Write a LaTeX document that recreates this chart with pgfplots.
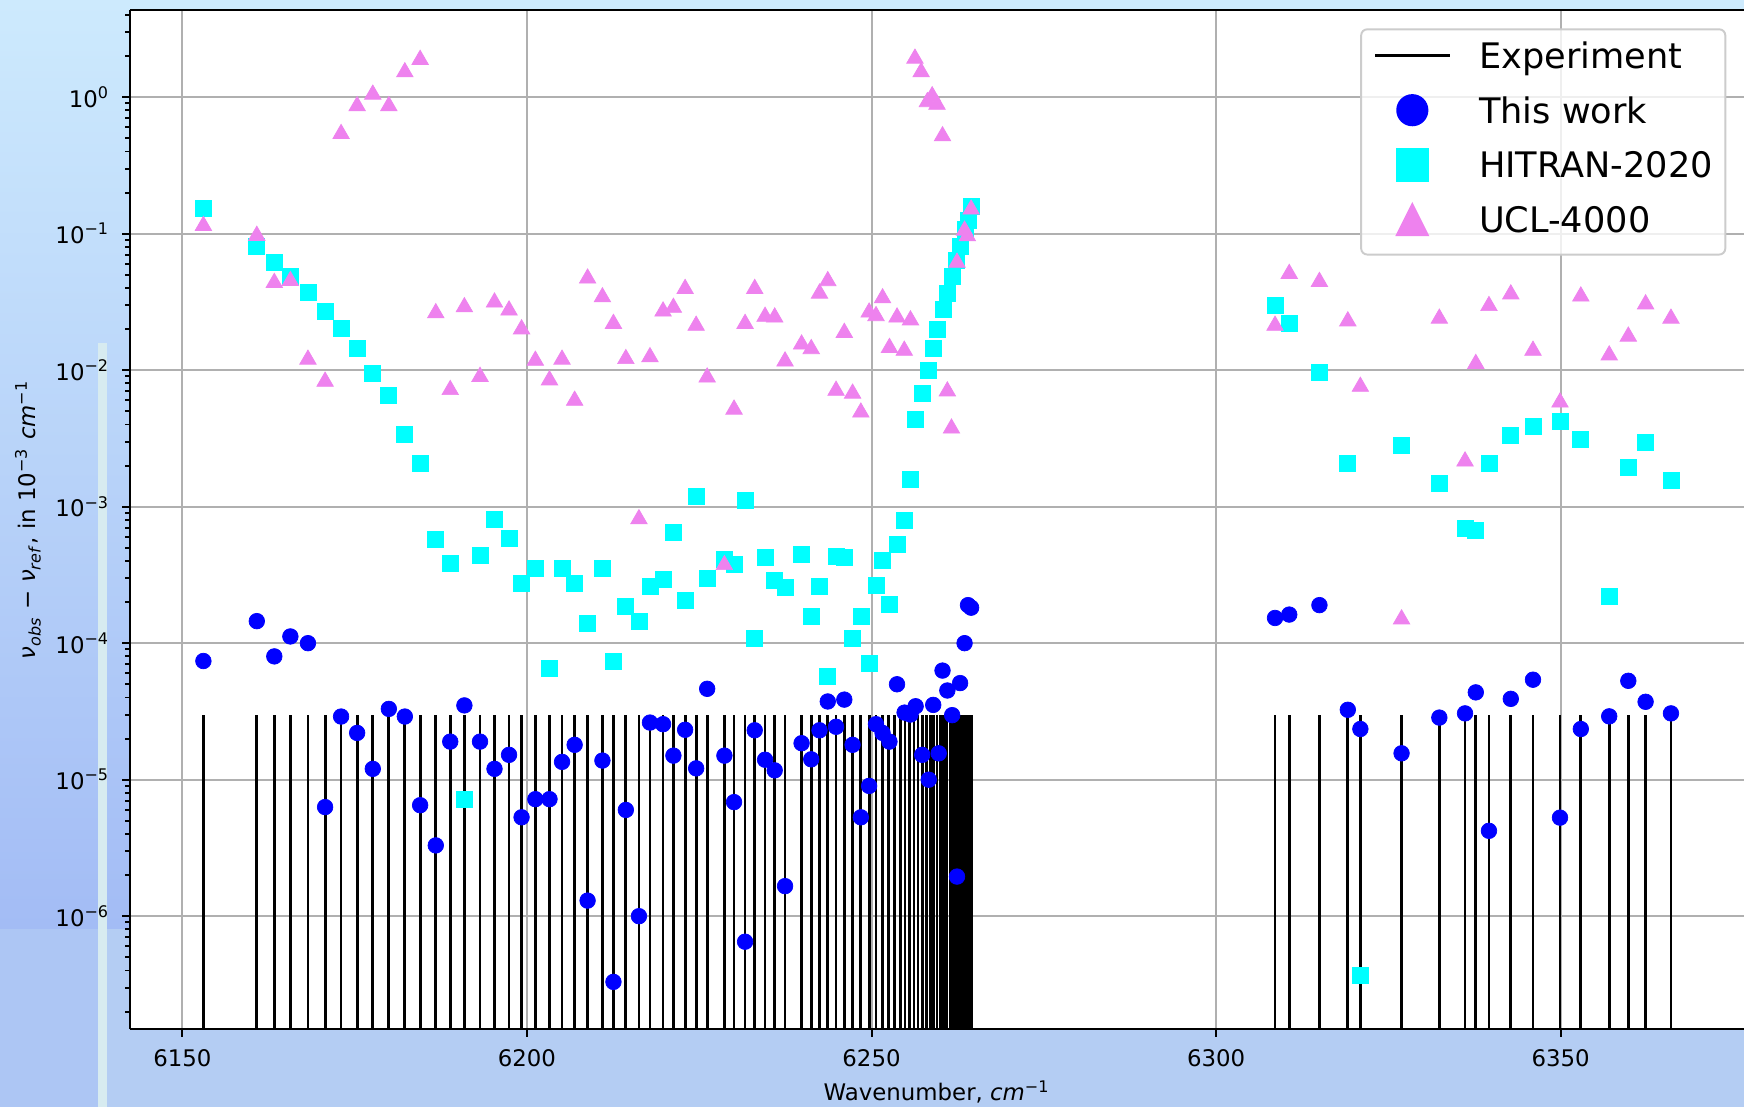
\documentclass[border=0pt]{standalone}
\usepackage{pgfplots}
\pgfplotsset{compat=1.18}
\usepackage{fontspec}
\setmainfont{DejaVu Sans}
\definecolor{bgtop}{HTML}{CDEAFD}
\definecolor{bgmid}{HTML}{B9D6F9}
\definecolor{bgbot}{HTML}{A3BCF5}
\definecolor{bglow}{HTML}{B4CDF3}
\definecolor{bglowleft}{HTML}{ADC6F4}
\definecolor{bgstrip}{HTML}{D7EBF0}
\definecolor{mviolet}{HTML}{EE82EE}
\definecolor{mcyan}{HTML}{00FFFF}
\definecolor{mblue}{HTML}{0000FF}
\definecolor{gridgray}{HTML}{B0B0B0}
\begin{document}
\begin{tikzpicture}
\path[use as bounding box] (-13mm,-7.8mm) rectangle (161.4mm,102.9mm);
\shade[top color=bgtop, middle color=bgmid, bottom color=bgbot] (-13mm,10mm) rectangle (161.4mm,102.9mm);
\fill[bglowleft] (-13mm,-7.8mm) rectangle (-3.2mm,10mm);
\fill[bglow] (-3.2mm,-7.8mm) rectangle (161.4mm,10mm);
\fill[bgstrip] (-3.2mm,-7.8mm) rectangle (-2.3mm,68.6mm);
\begin{axis}[
  at={(0,0)}, anchor=south west,
  scale only axis, width=161.4mm, height=101.9mm,
  xmin=6142.4, xmax=6376.6,
  ymode=log, ymin=1.49e-7, ymax=4.35,
  axis x line*=bottom, axis y line*=left,
  axis line style={-, black, line width=0.65pt},
  axis background/.style={fill=white},
  xtick={6150,6200,6250,6300,6350},
  xticklabels={6150,6200,6250,6300,6350},
  ytick={1e-6,1e-5,1e-4,1e-3,1e-2,1e-1,1},
  yticklabels={10\textsuperscript{−6},10\textsuperscript{−5},10\textsuperscript{−4},10\textsuperscript{−3},10\textsuperscript{−2},10\textsuperscript{−1},10\textsuperscript{0}},
  minor ytick={2e-7,3e-7,4e-7,5e-7,6e-7,7e-7,8e-7,9e-7,
    2e-6,3e-6,4e-6,5e-6,6e-6,7e-6,8e-6,9e-6,
    2e-5,3e-5,4e-5,5e-5,6e-5,7e-5,8e-5,9e-5,
    2e-4,3e-4,4e-4,5e-4,6e-4,7e-4,8e-4,9e-4,
    2e-3,3e-3,4e-3,5e-3,6e-3,7e-3,8e-3,9e-3,
    2e-2,3e-2,4e-2,5e-2,6e-2,7e-2,8e-2,9e-2,
    0.2,0.3,0.4,0.5,0.6,0.7,0.8,0.9,2,3,4},
  tick align=outside,
  major tick length=0.77mm,
  minor tick length=0.45mm,
  every tick/.style={black, line width=0.55pt},
  grid=major,
  major grid style={gridgray, line width=0.55pt},
  tick label style={font=\fontsize{6.5}{7.8}\selectfont},
  label style={font=\fontsize{6.5}{7.8}\selectfont},
  xlabel={Wavenumber, \textit{cm}\textsuperscript{−1}},
  ylabel={\textit{ν}\textsubscript{\textit{obs}} − \textit{ν}\textsubscript{\textit{ref}}, in 10\textsuperscript{−3} \textit{cm}\textsuperscript{−1}},
  xlabel style={at={(axis description cs:0.5,-0.0618)}, anchor=center},
  ylabel style={at={(axis description cs:-0.0632,0.5)}, anchor=center},
  legend style={
    at={(axis description cs:0.989,0.982)}, anchor=north east,
    draw=black!20, line width=0.55pt, rounded corners=0.6mm,
    fill=white, fill opacity=0.8, text opacity=1,
    font=\fontsize{10}{12}\selectfont,
    inner xsep=1.25mm, inner ysep=1.35mm,
    row sep=1.68mm, column sep=2.8mm,
    cells={anchor=base west},
    nodes={inner sep=0pt, text height=2.6mm, text depth=0.85mm},
  },
]
% Experiment sticks
\addplot[black, line width=0.8pt, mark=none, unbounded coords=jump,
  legend image code/.code={\draw[black, line width=0.82pt, sharp corners, draw opacity=1] (0mm,1.29mm) -- (7.45mm,1.29mm);}]
coordinates {
(6153.05,1e-9)(6153.05,3e-5)(6153.05,nan)
(6160.80,1e-9)(6160.80,3e-5)(6160.80,nan)
(6163.34,1e-9)(6163.34,3e-5)(6163.34,nan)
(6165.67,1e-9)(6165.67,3e-5)(6165.67,nan)
(6168.22,1e-9)(6168.22,3e-5)(6168.22,nan)
(6170.71,1e-9)(6170.71,3e-5)(6170.71,nan)
(6173.03,1e-9)(6173.03,3e-5)(6173.03,nan)
(6175.36,1e-9)(6175.36,3e-5)(6175.36,nan)
(6177.63,1e-9)(6177.63,3e-5)(6177.63,nan)
(6179.96,1e-9)(6179.96,3e-5)(6179.96,nan)
(6182.28,1e-9)(6182.28,3e-5)(6182.28,nan)
(6184.50,1e-9)(6184.50,3e-5)(6184.50,nan)
(6186.77,1e-9)(6186.77,3e-5)(6186.77,nan)
(6188.87,1e-9)(6188.87,3e-5)(6188.87,nan)
(6190.92,1e-9)(6190.92,3e-5)(6190.92,nan)
(6193.19,1e-9)(6193.19,3e-5)(6193.19,nan)
(6195.29,1e-9)(6195.29,3e-5)(6195.29,nan)
(6197.40,1e-9)(6197.40,3e-5)(6197.40,nan)
(6199.22,1e-9)(6199.22,3e-5)(6199.22,nan)
(6201.22,1e-9)(6201.22,3e-5)(6201.22,nan)
(6203.27,1e-9)(6203.27,3e-5)(6203.27,nan)
(6205.09,1e-9)(6205.09,3e-5)(6205.09,nan)
(6206.92,1e-9)(6206.92,3e-5)(6206.92,nan)
(6208.80,1e-9)(6208.80,3e-5)(6208.80,nan)
(6210.95,1e-9)(6210.95,3e-5)(6210.95,nan)
(6212.55,1e-9)(6212.55,3e-5)(6212.55,nan)
(6214.35,1e-9)(6214.35,3e-5)(6214.35,nan)
(6216.25,1e-9)(6216.25,3e-5)(6216.25,nan)
(6217.85,1e-9)(6217.85,3e-5)(6217.85,nan)
(6219.75,1e-9)(6219.75,3e-5)(6219.75,nan)
(6221.25,1e-9)(6221.25,3e-5)(6221.25,nan)
(6222.95,1e-9)(6222.95,3e-5)(6222.95,nan)
(6224.55,1e-9)(6224.55,3e-5)(6224.55,nan)
(6226.15,1e-9)(6226.15,3e-5)(6226.15,nan)
(6228.65,1e-9)(6228.65,3e-5)(6228.65,nan)
(6230.05,1e-9)(6230.05,3e-5)(6230.05,nan)
(6231.65,1e-9)(6231.65,3e-5)(6231.65,nan)
(6233.05,1e-9)(6233.05,3e-5)(6233.05,nan)
(6234.55,1e-9)(6234.55,3e-5)(6234.55,nan)
(6235.95,1e-9)(6235.95,3e-5)(6235.95,nan)
(6237.45,1e-9)(6237.45,3e-5)(6237.45,nan)
(6239.85,1e-9)(6239.85,3e-5)(6239.85,nan)
(6241.25,1e-9)(6241.25,3e-5)(6241.25,nan)
(6242.45,1e-9)(6242.45,3e-5)(6242.45,nan)
(6243.65,1e-9)(6243.65,3e-5)(6243.65,nan)
(6244.85,1e-9)(6244.85,3e-5)(6244.85,nan)
(6246.05,1e-9)(6246.05,3e-5)(6246.05,nan)
(6247.25,1e-9)(6247.25,3e-5)(6247.25,nan)
(6248.45,1e-9)(6248.45,3e-5)(6248.45,nan)
(6249.65,1e-9)(6249.65,3e-5)(6249.65,nan)
(6250.65,1e-9)(6250.65,3e-5)(6250.65,nan)
(6251.55,1e-9)(6251.55,3e-5)(6251.55,nan)
(6252.45,1e-9)(6252.45,3e-5)(6252.45,nan)
(6253.35,1e-9)(6253.35,3e-5)(6253.35,nan)
(6254.15,1e-9)(6254.15,3e-5)(6254.15,nan)
(6254.85,1e-9)(6254.85,3e-5)(6254.85,nan)
(6255.55,1e-9)(6255.55,3e-5)(6255.55,nan)
(6256.15,1e-9)(6256.15,3e-5)(6256.15,nan)
(6256.75,1e-9)(6256.75,3e-5)(6256.75,nan)
(6257.35,1e-9)(6257.35,3e-5)(6257.35,nan)
(6257.95,1e-9)(6257.95,3e-5)(6257.95,nan)
(6258.50,1e-9)(6258.50,3e-5)(6258.50,nan)
(6259.00,1e-9)(6259.00,3e-5)(6259.00,nan)
(6259.50,1e-9)(6259.50,3e-5)(6259.50,nan)
(6259.95,1e-9)(6259.95,3e-5)(6259.95,nan)
(6260.45,1e-9)(6260.45,3e-5)(6260.45,nan)
(6260.90,1e-9)(6260.90,3e-5)(6260.90,nan)
(6261.40,1e-9)(6261.40,3e-5)(6261.40,nan)
(6261.85,1e-9)(6261.85,3e-5)(6261.85,nan)
(6262.35,1e-9)(6262.35,3e-5)(6262.35,nan)
(6262.80,1e-9)(6262.80,3e-5)(6262.80,nan)
(6263.10,1e-9)(6263.10,3e-5)(6263.10,nan)
(6263.30,1e-9)(6263.30,3e-5)(6263.30,nan)
(6263.50,1e-9)(6263.50,3e-5)(6263.50,nan)
(6263.70,1e-9)(6263.70,3e-5)(6263.70,nan)
(6263.90,1e-9)(6263.90,3e-5)(6263.90,nan)
(6264.10,1e-9)(6264.10,3e-5)(6264.10,nan)
(6264.30,1e-9)(6264.30,3e-5)(6264.30,nan)
(6264.45,1e-9)(6264.45,3e-5)(6264.45,nan)
(6308.55,1e-9)(6308.55,3e-5)(6308.55,nan)
(6310.61,1e-9)(6310.61,3e-5)(6310.61,nan)
(6314.99,1e-9)(6314.99,3e-5)(6314.99,nan)
(6319.11,1e-9)(6319.11,3e-5)(6319.11,nan)
(6320.93,1e-9)(6320.93,3e-5)(6320.93,nan)
(6326.91,1e-9)(6326.91,3e-5)(6326.91,nan)
(6332.39,1e-9)(6332.39,3e-5)(6332.39,nan)
(6336.12,1e-9)(6336.12,3e-5)(6336.12,nan)
(6337.68,1e-9)(6337.68,3e-5)(6337.68,nan)
(6339.59,1e-9)(6339.59,3e-5)(6339.59,nan)
(6342.76,1e-9)(6342.76,3e-5)(6342.76,nan)
(6345.98,1e-9)(6345.98,3e-5)(6345.98,nan)
(6349.90,1e-9)(6349.90,3e-5)(6349.90,nan)
(6352.92,1e-9)(6352.92,3e-5)(6352.92,nan)
(6357.04,1e-9)(6357.04,3e-5)(6357.04,nan)
(6359.81,1e-9)(6359.81,3e-5)(6359.81,nan)
(6362.32,1e-9)(6362.32,3e-5)(6362.32,nan)
(6366.00,1e-9)(6366.00,3e-5)(6366.00,nan)
};
\addlegendentry{Experiment}
% This work
\addplot[color=mblue, only marks, mark=*, mark size=0.78mm, mark options={solid, draw=mblue, fill=mblue, line width=0.2pt},
  legend image code/.code={\fill[mblue, fill opacity=1] (3.72mm,1.29mm) circle (1.51mm);}]
coordinates {
(6153.05,7.4e-5)(6160.80,1.45e-4)(6163.34,8.0e-5)(6165.67,1.12e-4)(6168.22,1.0e-4)
(6170.71,6.3e-6)(6173.03,2.9e-5)(6175.36,2.2e-5)(6177.63,1.2e-5)(6179.96,3.3e-5)
(6182.28,2.9e-5)(6184.50,6.5e-6)(6186.77,3.3e-6)(6188.87,1.9e-5)(6190.92,3.5e-5)
(6193.19,1.9e-5)(6195.29,1.2e-5)(6197.40,1.52e-5)(6199.22,5.3e-6)(6201.22,7.2e-6)
(6203.27,7.2e-6)(6205.09,1.35e-5)(6206.92,1.8e-5)(6208.80,1.3e-6)(6210.95,1.38e-5)
(6212.55,3.3e-7)(6214.35,6.0e-6)(6216.25,1.0e-6)(6217.85,2.62e-5)(6219.75,2.55e-5)
(6221.25,1.5e-5)(6222.95,2.32e-5)(6224.55,1.21e-5)(6226.15,4.63e-5)(6228.65,1.5e-5)
(6230.05,6.85e-6)(6231.65,6.5e-7)(6233.05,2.3e-5)(6234.55,1.4e-5)(6235.95,1.17e-5)
(6237.45,1.66e-6)(6239.85,1.85e-5)(6241.25,1.41e-5)(6242.45,2.3e-5)(6243.65,3.74e-5)
(6244.85,2.44e-5)(6246.05,3.86e-5)(6247.25,1.8e-5)(6248.45,5.3e-6)(6249.65,9.0e-6)
(6250.65,2.55e-5)(6251.60,2.2e-5)(6252.60,1.9e-5)(6253.70,5.0e-5)(6254.80,3.1e-5)
(6255.65,3.0e-5)(6256.40,3.45e-5)(6257.35,1.52e-5)(6258.30,1.0e-5)(6258.95,3.53e-5)
(6259.75,1.56e-5)(6260.30,6.3e-5)(6261.00,4.5e-5)(6261.70,2.97e-5)(6262.40,1.95e-6)
(6262.85,5.1e-5)(6263.50,1.0e-4)(6264.00,1.9e-4)(6264.45,1.82e-4)
(6308.55,1.53e-4)(6310.61,1.62e-4)(6314.99,1.9e-4)(6319.11,3.25e-5)(6320.93,2.35e-5)
(6326.91,1.56e-5)(6332.39,2.85e-5)(6336.12,3.06e-5)(6337.68,4.36e-5)(6339.59,4.22e-6)
(6342.76,3.91e-5)(6345.98,5.4e-5)(6349.90,5.27e-6)(6352.92,2.35e-5)(6357.04,2.91e-5)
(6359.81,5.3e-5)(6362.32,3.72e-5)(6366.00,3.06e-5)
};
\addlegendentry{This work}
% HITRAN-2020
\addplot[color=mcyan, only marks, mark=square*, mark size=0.8mm, mark options={solid, draw=mcyan, fill=mcyan, line width=0.2pt},
  legend image code/.code={\fill[mcyan, fill opacity=1, sharp corners] (2.16mm,-0.27mm) rectangle (5.28mm,2.85mm);}]
coordinates {
(6153.05,0.153)(6160.80,0.081)(6163.34,0.0615)(6165.67,0.0483)(6168.22,0.0369)
(6170.71,0.0268)(6173.03,0.0202)(6175.36,0.0145)(6177.63,0.00945)(6179.96,0.00655)
(6182.28,0.00341)(6184.50,0.00206)(6186.77,5.78e-4)(6188.87,3.86e-4)(6190.92,7.2e-6)
(6193.19,4.4e-4)(6195.29,8.05e-4)(6197.40,5.85e-4)(6199.22,2.75e-4)(6201.22,3.56e-4)
(6203.27,6.56e-5)(6205.09,3.56e-4)(6206.92,2.75e-4)(6208.80,1.39e-4)(6210.95,3.56e-4)
(6212.55,7.4e-5)(6214.35,1.85e-4)(6216.25,1.45e-4)(6217.85,2.62e-4)(6219.75,2.93e-4)
(6221.25,6.5e-4)(6222.95,2.07e-4)(6224.55,1.2e-3)(6226.15,3.0e-4)(6228.65,4.1e-4)
(6230.05,3.79e-4)(6231.65,1.12e-3)(6233.05,1.09e-4)(6234.55,4.28e-4)(6235.95,2.9e-4)
(6237.45,2.56e-4)(6239.85,4.5e-4)(6241.25,1.58e-4)(6242.45,2.62e-4)(6243.65,5.7e-5)
(6244.85,4.35e-4)(6246.05,4.28e-4)(6247.25,1.09e-4)(6248.45,1.58e-4)(6249.65,7.06e-5)
(6250.65,2.67e-4)(6251.60,4.03e-4)(6252.60,1.93e-4)(6253.70,5.3e-4)(6254.75,8.0e-4)
(6255.70,1.58e-3)(6256.40,4.35e-3)(6257.35,6.8e-3)(6258.25,0.0100)(6258.90,0.0144)
(6259.60,0.0199)(6260.35,0.0280)(6261.00,0.0365)(6261.70,0.0484)(6262.35,0.0641)
(6262.90,0.0803)(6263.60,0.107)(6264.10,0.126)(6264.50,0.158)
(6308.55,0.0299)(6310.61,0.0221)(6314.99,0.00968)(6319.11,0.00208)(6320.93,3.7e-7)
(6326.91,0.00282)(6332.39,0.00147)(6336.12,6.92e-4)(6337.68,6.71e-4)(6339.59,0.00208)
(6342.76,0.00331)(6345.98,0.0039)(6349.90,0.00422)(6352.92,0.00312)(6357.04,2.22e-4)
(6359.81,0.00195)(6362.32,0.00297)(6366.00,0.00156)
};
\addlegendentry{HITRAN-2020}
% UCL-4000
\addplot[color=mviolet, only marks, mark=triangle*, mark size=0.95mm, mark options={solid, draw=mviolet, fill=mviolet, line width=0.2pt, yshift=-0.24mm},
  legend image code/.code={\fill[mviolet, fill opacity=1, sharp corners] (3.72mm,2.84mm) -- (2.17mm,-0.26mm) -- (5.27mm,-0.26mm) -- cycle;}]
coordinates {
(6153.05,0.119)(6160.80,0.1007)(6163.34,0.0455)(6165.67,0.047)(6168.22,0.01247)
(6170.71,0.0086)(6173.03,0.561)(6175.36,0.897)(6177.63,1.09)(6179.96,0.897)
(6182.28,1.59)(6184.50,1.96)(6186.77,0.0273)(6188.87,0.00747)(6190.92,0.0302)
(6193.19,0.00933)(6195.29,0.0327)(6197.40,0.0286)(6199.22,0.0208)(6201.22,0.01225)
(6203.27,0.0088)(6205.09,0.01247)(6206.92,0.00624)(6208.80,0.049)(6210.95,0.0357)
(6212.55,0.0228)(6214.35,0.0126)(6216.25,8.45e-4)(6217.85,0.013)(6219.75,0.0281)
(6221.25,0.0299)(6222.95,0.0411)(6224.55,0.0221)(6226.15,0.00923)(6228.65,3.9e-4)
(6230.05,0.00537)(6231.65,0.0228)(6233.05,0.0411)(6234.55,0.0257)(6235.95,0.0254)
(6237.45,0.0121)(6239.85,0.0161)(6241.25,0.0149)(6242.45,0.038)(6243.65,0.0469)
(6244.85,0.00738)(6246.05,0.0196)(6247.25,0.00703)(6248.45,0.00511)(6249.65,0.0276)
(6250.65,0.026)(6251.60,0.0351)(6252.60,0.0152)(6253.70,0.0254)(6254.75,0.0145)
(6255.65,0.0242)(6256.30,2.0)(6257.20,1.59)(6258.10,0.96)(6258.80,1.06)
(6259.50,0.92)(6260.30,0.54)(6261.00,0.0073)(6261.60,0.0039)(6262.40,0.064)
(6263.50,0.11)(6263.90,0.10)(6264.45,0.157)
(6308.55,0.0221)(6310.61,0.053)(6314.99,0.0463)(6319.11,0.0238)(6320.93,0.00789)
(6326.91,1.56e-4)(6332.39,0.0249)(6336.12,0.00224)(6337.68,0.0116)(6339.59,0.0308)
(6342.76,0.0375)(6345.98,0.0145)(6349.90,0.00605)(6352.92,0.0362)(6357.04,0.0134)
(6359.81,0.0184)(6362.32,0.0317)(6366.00,0.0249)
};
\addlegendentry{UCL-4000}
\end{axis}
\draw[black, line width=0.65pt] (0mm,101.9mm) -- (161.4mm,101.9mm);
\end{tikzpicture}
\end{document}
